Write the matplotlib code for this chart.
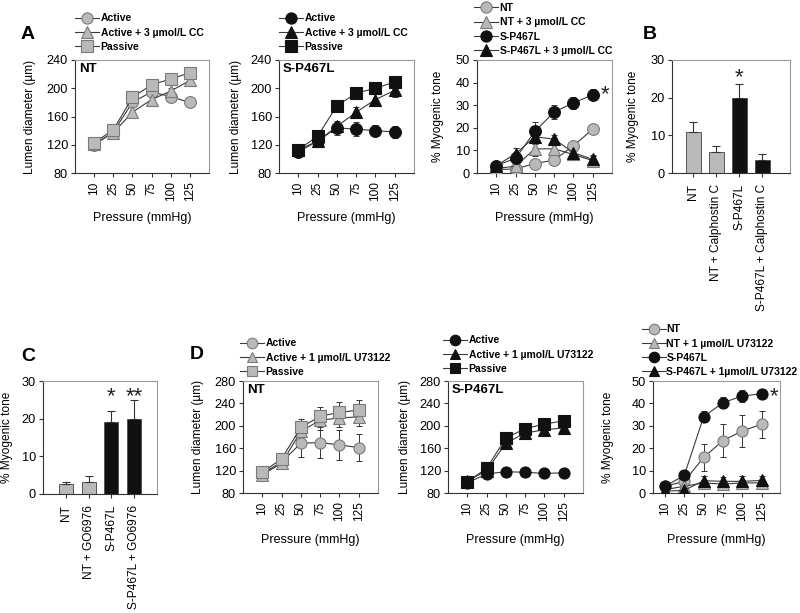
import matplotlib
matplotlib.use("Agg")
import matplotlib.pyplot as plt

plt.rcParams['font.family'] = ['Liberation Sans', 'DejaVu Sans']

# ---------------- data ----------------
pressures = ["10", "25", "50", "75", "100", "125"]

# Panel A - NT lumen diameter
a_nt_active = [120, 138, 180, 195, 188, 180]
a_nt_active_err = [3, 3, 4, 5, 5, 3]
a_nt_cc = [121, 137, 166, 184, 196, 211]
a_nt_cc_err = [3, 3, 7, 5, 5, 7]
a_nt_passive = [123, 141, 187, 205, 213, 222]
a_nt_passive_err = [3, 3, 4, 4, 4, 4]

# Panel A - S-P467L lumen diameter
a_sp_active = [110, 125, 144, 142, 140, 138]
a_sp_active_err = [4, 4, 10, 10, 8, 9]
a_sp_cc = [113, 125, 146, 166, 184, 197]
a_sp_cc_err = [4, 4, 6, 7, 8, 10]
a_sp_passive = [113, 132, 175, 193, 200, 209]
a_sp_passive_err = [4, 4, 4, 5, 6, 6]

# Panel A - myogenic tone
a_tone_nt = [1.5, 1.8, 4.2, 5.7, 12, 19.4]
a_tone_nt_err = [0.5, 1, 1, 1, 1, 1]
a_tone_nt_cc = [2, 3, 10.7, 10.7, 8.2, 5.5]
a_tone_nt_cc_err = [1, 1, 3, 2.5, 1.5, 2.5]
a_tone_sp = [3.3, 6.5, 18.4, 27, 31, 34.6]
a_tone_sp_err = [1.5, 3, 4, 3, 2.5, 2.5]
a_tone_sp_cc = [3.3, 8.5, 16, 15, 9, 6]
a_tone_sp_cc_err = [1.5, 2.5, 3, 2, 1.5, 1.5]

# Panel B
b_labels = ["NT", "NT + Calphostin C", "S-P467L", "S-P467L + Calphostin C"]
b_values = [11, 5.5, 20, 3.5]
b_err = [2.6, 1.6, 3.5, 1.5]

# Panel C
c_labels = ["NT", "NT + GO6976", "S-P467L", "S-P467L + GO6976"]
c_values = [2.7, 3.2, 19, 20]
c_err = [0.5, 1.5, 3, 5]

# Panel D - NT lumen diameter
d_nt_active = [115, 135, 169, 170, 166, 161]
d_nt_active_err = [8, 10, 24, 28, 27, 24]
d_nt_u = [113, 133, 190, 210, 214, 216]
d_nt_u_err = [8, 8, 15, 17, 17, 17]
d_nt_passive = [117, 141, 197, 217, 224, 228]
d_nt_passive_err = [8, 10, 15, 17, 18, 18]

# Panel D - S-P467L lumen diameter
d_sp_active = [98, 114, 118, 117, 115, 116]
d_sp_active_err = [4, 4, 3, 3, 3, 3]
d_sp_u = [101, 120, 169, 187, 193, 196]
d_sp_u_err = [4, 5, 6, 6, 6, 6]
d_sp_passive = [100, 124, 178, 195, 203, 209]
d_sp_passive_err = [4, 5, 6, 7, 7, 7]

# Panel D - myogenic tone
d_tone_nt = [3, 5.2, 15.9, 23.4, 27.7, 30.7]
d_tone_nt_err = [1, 2, 6, 7.5, 7, 6]
d_tone_nt_u = [1.5, 3, 4.5, 4, 4.5, 4.5]
d_tone_nt_u_err = [1, 1, 1.5, 1.5, 1.5, 1.5]
d_tone_sp = [3, 7.9, 34.1, 40.3, 43.3, 44.3]
d_tone_sp_err = [1, 1, 2.5, 2.5, 2.5, 2]
d_tone_sp_u = [0.8, 1.2, 5.5, 5.2, 5.2, 5.6]
d_tone_sp_u_err = [0.5, 0.5, 2, 2, 2.5, 2]

# ---------------- style ----------------
GRAY = '#b9b9b9'
GRAY_EDGE = '#7a7a7a'
BLACK = '#111111'
LINE_C = '#3a3a3a'
W, H = 800, 613

fig = plt.figure(figsize=(8, 6.13), dpi=100)


def add_ax(l, t, r, b):
    return fig.add_axes([l / W, 1 - b / H, (r - l) / W, (b - t) / H])


def style_axes(ax, ylab, ylab_dx, xlab=None, xlab_dy=None, xtick_size=8.6):
    for s in ['top', 'right']:
        ax.spines[s].set_color('#9a9a9a')
        ax.spines[s].set_linewidth(0.8)
    for s in ['left', 'bottom']:
        ax.spines[s].set_color('#333333')
        ax.spines[s].set_linewidth(0.8)
    ax.tick_params(direction='out', length=3, width=0.8, pad=2,
                   color='#333333')
    ax.tick_params(axis='y', labelsize=9.2)
    ax.tick_params(axis='x', labelsize=xtick_size, pad=3)
    bb = ax.get_position()
    wpx = bb.width * W
    hpx = bb.height * H
    ax.set_ylabel(ylab, fontsize=8.6, va='center')
    ax.yaxis.set_label_coords(-ylab_dx / wpx, 0.5)
    if xlab:
        ax.set_xlabel(xlab, fontsize=9, va='center')
        ax.xaxis.set_label_coords(0.5, -xlab_dy / hpx)


def line_panel(ax, series, ylim, yticks, xlim=(-1, 6), title=None, ylab="",
               ylab_dx=44, xlab_dy=45, ms=8.5):
    handles = []
    x = list(range(len(pressures)))
    for vals, errs, marker, fc, ec, lab in series:
        ax.errorbar(x, vals, yerr=errs, fmt='none', ecolor='#333333',
                    elinewidth=0.7, capsize=2, capthick=0.7, zorder=2)
        ln, = ax.plot(x, vals, color=LINE_C, lw=0.8, marker=marker, ms=ms,
                      mfc=fc, mec=ec, mew=0.8, zorder=3, label=lab)
        handles.append(ln)
    ax.set_xlim(*xlim)
    ax.set_ylim(*ylim)
    ax.set_yticks(yticks)
    ax.set_xticks(x)
    ax.set_xticklabels(pressures, rotation=90)
    if title:
        ax.text(0.03, 0.97, title, transform=ax.transAxes, fontsize=9.5,
                fontweight='bold', ha='left', va='top')
    style_axes(ax, ylab, ylab_dx, "Pressure (mmHg)", xlab_dy)
    return handles


def add_legend(ax, handles, x_px, y_px, spacing=0.42, tpad=0.15):
    leg = ax.legend(handles=handles, loc='lower left',
                    bbox_to_anchor=(x_px / W, 1 - y_px / H),
                    bbox_transform=fig.transFigure, frameon=False,
                    prop={'size': 7.5, 'weight': 'bold'}, handlelength=2.3,
                    handletextpad=tpad, borderpad=0, borderaxespad=0,
                    labelspacing=spacing, markerscale=0.95)
    return leg


def bar_panel(ax, labels, values, errs, colors, ylab, ylab_dx):
    x = list(range(len(values)))
    ax.bar(x, values, width=0.62, color=colors, edgecolor='#555555',
           linewidth=0.7, zorder=2)
    ax.errorbar(x, values, yerr=[[0] * len(errs), errs], fmt='none',
                ecolor='#333333', elinewidth=0.8, capsize=3, capthick=0.8,
                zorder=3)
    ax.set_ylim(0, 30)
    ax.set_yticks([0, 10, 20, 30])
    ax.set_xticks(x)
    ax.set_xticklabels(labels, rotation=90)
    style_axes(ax, ylab, ylab_dx, xtick_size=8.6)
    ax.tick_params(axis='x', pad=5)


def star(ax, x, y, text='*', size=16, dx=0, dy=0, ha='center', va='bottom'):
    ax.annotate(text, xy=(x, y), xytext=(dx, dy), textcoords='offset points',
                fontsize=size, ha=ha, va=va, color='#222222')


# ---------------- Panel A ----------------
ax1 = add_ax(75, 60, 209, 173)
h = line_panel(ax1, [
    (a_nt_active, a_nt_active_err, 'o', GRAY, GRAY_EDGE, 'Active'),
    (a_nt_cc, a_nt_cc_err, '^', GRAY, GRAY_EDGE, 'Active + 3 \u00b5mol/L CC'),
    (a_nt_passive, a_nt_passive_err, 's', GRAY, GRAY_EDGE, 'Passive'),
], (80, 240), [80, 120, 160, 200, 240], title='NT',
    ylab='Lumen diameter (\u00b5m)', ylab_dx=45)
add_legend(ax1, h, 75, 52)

ax2 = add_ax(279, 60, 414, 173)
h = line_panel(ax2, [
    (a_sp_active, a_sp_active_err, 'o', BLACK, BLACK, 'Active'),
    (a_sp_cc, a_sp_cc_err, '^', BLACK, BLACK, 'Active + 3 \u00b5mol/L CC'),
    (a_sp_passive, a_sp_passive_err, 's', BLACK, BLACK, 'Passive'),
], (80, 240), [80, 120, 160, 200, 240], title='S-P467L',
    ylab='Lumen diameter (\u00b5m)', ylab_dx=43)
add_legend(ax2, h, 279, 52)

ax3 = add_ax(477, 60, 612, 173)
h = line_panel(ax3, [
    (a_tone_nt, a_tone_nt_err, 'o', GRAY, GRAY_EDGE, 'NT'),
    (a_tone_nt_cc, a_tone_nt_cc_err, '^', GRAY, GRAY_EDGE, 'NT + 3 \u00b5mol/L CC'),
    (a_tone_sp, a_tone_sp_err, 'o', BLACK, BLACK, 'S-P467L'),
    (a_tone_sp_cc, a_tone_sp_cc_err, '^', BLACK, BLACK, 'S-P467L + 3 \u00b5mol/L CC'),
], (0, 50), [0, 10, 20, 30, 40, 50], ylab='% Myogenic tone', ylab_dx=39)
add_legend(ax3, h, 474, 56)
star(ax3, 5, a_tone_sp[5], dx=6, dy=0, ha='left', va='center')

# ---------------- Panel B ----------------
axB = add_ax(672, 60, 790, 173)
bar_panel(axB, b_labels, b_values, b_err, [GRAY, GRAY, BLACK, BLACK],
          '% Myogenic tone', 39)
axB.set_xlim(-0.93, 4.2)
star(axB, 2, b_values[2] + b_err[2], dy=-3)

# ---------------- Panel C ----------------
axC = add_ax(43, 381, 157, 494)
bar_panel(axC, c_labels, c_values, c_err, [GRAY, GRAY, BLACK, BLACK],
          '% Myogenic tone', 36)
axC.set_xlim(-1.0, 4.0)
star(axC, 2, c_values[2] + c_err[2], dy=3)
star(axC, 3, c_values[3] + c_err[3], text='**', dy=-5)

# ---------------- Panel D ----------------
axD1 = add_ax(243, 381, 378, 493)
h = line_panel(axD1, [
    (d_nt_active, d_nt_active_err, 'o', GRAY, GRAY_EDGE, 'Active'),
    (d_nt_u, d_nt_u_err, '^', GRAY, GRAY_EDGE, 'Active + 1 \u00b5mol/L U73122'),
    (d_nt_passive, d_nt_passive_err, 's', GRAY, GRAY_EDGE, 'Passive'),
], (80, 280), [80, 120, 160, 200, 240, 280], title='NT',
    ylab='Lumen diameter (\u00b5m)', ylab_dx=45, xlab_dy=47, ms=8)
add_legend(axD1, h, 240, 377)

axD2 = add_ax(448, 381, 583, 493)
h = line_panel(axD2, [
    (d_sp_active, d_sp_active_err, 'o', BLACK, BLACK, 'Active'),
    (d_sp_u, d_sp_u_err, '^', BLACK, BLACK, 'Active + 1 \u00b5mol/L U73122'),
    (d_sp_passive, d_sp_passive_err, 's', BLACK, BLACK, 'Passive'),
], (80, 280), [80, 120, 160, 200, 240, 280], title='S-P467L',
    ylab='Lumen diameter (\u00b5m)', ylab_dx=43, xlab_dy=47, ms=8)
add_legend(axD2, h, 443, 374)

axD3 = add_ax(653, 381, 780, 493)
h = line_panel(axD3, [
    (d_tone_nt, d_tone_nt_err, 'o', GRAY, GRAY_EDGE, 'NT'),
    (d_tone_nt_u, d_tone_nt_u_err, '^', GRAY, GRAY_EDGE, 'NT + 1 \u00b5mol/L U73122'),
    (d_tone_sp, d_tone_sp_err, 'o', BLACK, BLACK, 'S-P467L'),
    (d_tone_sp_u, d_tone_sp_u_err, '^', BLACK, BLACK, 'S-P467L + 1\u00b5mol/L U73122'),
], (0, 50), [0, 10, 20, 30, 40, 50], xlim=(-0.62, 5.95),
    ylab='% Myogenic tone', ylab_dx=45, xlab_dy=47, ms=8)
add_legend(axD3, h, 642, 377, spacing=0.4, tpad=0.05)
star(axD3, 5, d_tone_sp[5], dx=6, dy=-2, ha='left', va='center')

# ---------------- panel letters ----------------
for letter, xp, yp in [('A', 21, 39), ('B', 643, 39), ('C', 21, 361), ('D', 190, 359)]:
    fig.text(xp / W, 1 - yp / H, letter, fontsize=14, fontweight='bold',
             ha='left', va='baseline')

fig.savefig('out.png', dpi=100, facecolor='white')
